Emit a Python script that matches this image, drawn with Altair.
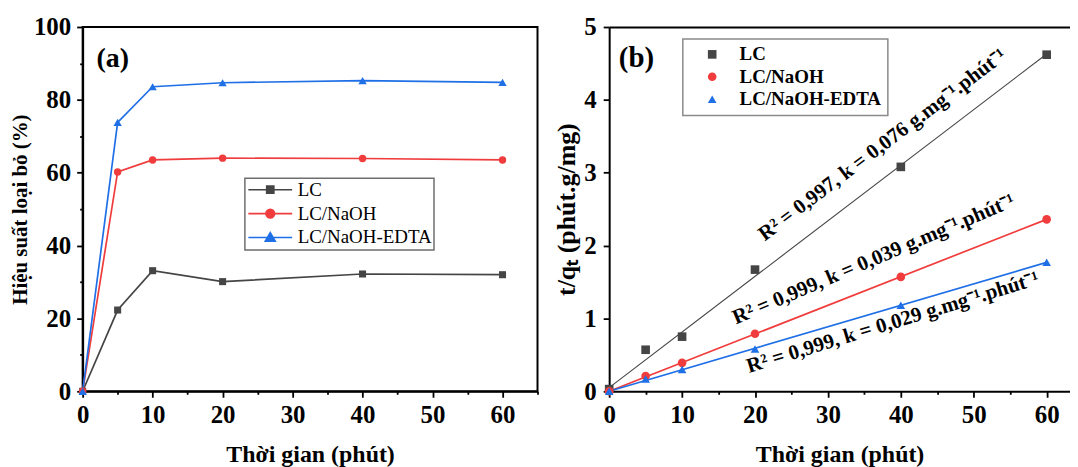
import altair as alt
import pandas as pd

# ------------------------------------------------------------------ data
time_min = [0, 5, 10, 20, 40, 60]
series_names = ["LC", "LC/NaOH", "LC/NaOH-EDTA"]

# (a) removal efficiency (%)
removal_LC = [0.0, 22.3, 33.1, 30.1, 32.2, 32.0]
removal_NaOH = [0.0, 60.2, 63.5, 64.0, 63.9, 63.5]
removal_EDTA = [0.0, 73.8, 83.6, 84.7, 85.3, 84.8]

# (b) t/qt
tq_LC = [0.03, 0.57, 0.75, 1.67, 3.08, 4.62]
tq_NaOH = [0.0, 0.21, 0.39, 0.79, 1.57, 2.36]
tq_EDTA = [0.0, 0.17, 0.30, 0.58, 1.18, 1.77]

# (b) fitted lines (end points)
fit_time = [0, 60]
fit_LC = [0.05, 4.63]
fit_NaOH = [0.0, 2.36]
fit_EDTA = [0.0, 1.77]

fit_labels = [
    "R² = 0,997, k = 0,076 g.mg⁻¹.phút⁻¹",
    "R² = 0,999, k = 0,039 g.mg⁻¹.phút⁻¹",
    "R² = 0,999, k = 0,029 g.mg⁻¹.phút⁻¹",
]

# tick values
x_ticks = [0, 5, 10, 15, 20, 25, 30, 35, 40, 45, 50, 55, 60, 65]
ya_ticks = [0, 10, 20, 30, 40, 50, 60, 70, 80, 90, 100]
yb_ticks = [0, 0.5, 1, 1.5, 2, 2.5, 3, 3.5, 4, 4.5, 5]

# ------------------------------------------------------------------ layout / style
FONT = "Liberation Serif"
COLORS = ["#454545", "#F03C3C", "#1F6FE6"]
SHAPES = ["square", "circle", "triangle-up"]
SIZES_A = [50, 55, 70]
FIT_WIDTHS = [1.1, 1.7, 1.7]
LEG_PATHS = [
    "M-1,0H4.5M1.3,-0.45H2.2V0.45H1.3Z",
    "M-1,0H4.5M2.3,0A0.55,0.55,0,1,1,1.2,0A0.55,0.55,0,1,1,2.3,0Z",
    "M-1,0H4.5M1.75,-0.62L2.38,0.45H1.12Z",
]
ann_x = [37.5, 36.3, 38.9]
ann_y = [3.38, 1.81, 0.94]
ann_angle = [323, 337, 343]

W_A, H_A = 457, 366
W_B, H_B = 463, 366


def long_df(xs, ys_list):
    rows = []
    for name, ys in zip(series_names, ys_list):
        for x, y in zip(xs, ys):
            rows.append({"time": x, "value": y, "series": name})
    return pd.DataFrame(rows)


df_a = long_df(time_min, [removal_LC, removal_NaOH, removal_EDTA])
df_b = long_df(time_min, [tq_LC, tq_NaOH, tq_EDTA])
df_fit = long_df(fit_time, [fit_LC, fit_NaOH, fit_EDTA])
df_ann = pd.DataFrame({"time": ann_x, "value": ann_y, "text": fit_labels, "angle": ann_angle})
df_la = pd.DataFrame({"time": [4.3], "value": [91.2], "text": ["(a)"]})
df_lb = pd.DataFrame({"time": [3.75], "value": [4.58], "text": ["(b)"]})


def minor_axis(values, test, title, **kw):
    return alt.Axis(
        values=values,
        format="d",
        labelExpr=f"({test}) ? datum.label : ''",
        tickSize={"condition": {"test": test, "value": 6}, "value": 3},
        labelFlush=False,
        labelOverlap=False,
        title=title,
        **kw,
    )


# ------------------------------------------------------------------ panel (a)
xa_scale = alt.Scale(domain=[0, 65], nice=False, zero=False)
ya_scale = alt.Scale(domain=[0, 100], nice=False)
xa = alt.X("time:Q", scale=xa_scale,
           axis=minor_axis(x_ticks, "datum.value % 10 === 0", "Thời gian (phút)",
                           labelPadding=5, titlePadding=16))
ya = alt.Y("value:Q", scale=ya_scale,
           axis=minor_axis(ya_ticks, "datum.value % 20 === 0", "Hiệu suất loại bỏ (%)",
                           labelPadding=6, titlePadding=3, titleFontSize=21))

lines_a = [
    alt.Chart(df_a).transform_filter(alt.datum.series == name).mark_line(
        strokeWidth=1.7, color=col).encode(x=xa, y=ya)
    for name, col in zip(series_names, COLORS)
]
points_a = [
    alt.Chart(df_a).transform_filter(alt.datum.series == name).mark_point(
        filled=True, opacity=1, shape=shp, size=sz, color=col).encode(x=xa, y=ya)
    for name, shp, sz, col in zip(series_names, SHAPES, SIZES_A, COLORS)
]

leg_a = alt.Legend(
    orient="none", legendX=163, legendY=152, title=None,
    labelFont=FONT, labelFontSize=19, labelFontWeight="normal", labelColor="black",
    strokeColor="#6e6e6e", padding=2, symbolOffset=0,
    symbolSize=256, symbolStrokeWidth=1.6, labelOffset=32, rowPadding=4,
)
legend_a = alt.Chart(df_a).mark_point(filled=True, strokeWidth=1.6, opacity=1, size=256).encode(
    x=xa, y=ya,
    fill=alt.Fill("series:N", scale=alt.Scale(domain=series_names, range=COLORS), legend=leg_a),
    stroke=alt.Stroke("series:N", scale=alt.Scale(domain=series_names, range=COLORS), legend=leg_a),
    shape=alt.Shape("series:N", scale=alt.Scale(domain=series_names, range=LEG_PATHS), legend=leg_a),
).transform_filter("false")

label_a = alt.Chart(df_la).mark_text(font=FONT, fontSize=28, fontWeight="bold", color="black").encode(
    x=xa, y=ya, text="text:N")

panel_a = alt.layer(*lines_a, *points_a, legend_a, label_a).properties(width=W_A, height=H_A)

# ------------------------------------------------------------------ panel (b)
xb_scale = alt.Scale(domain=[0, 63.2], nice=False, zero=False)
yb_scale = alt.Scale(domain=[0, 5], nice=False)
xb_main = alt.X("time:Q", scale=xb_scale,
                axis=minor_axis(x_ticks, "datum.value % 10 === 0", "Thời gian (phút)",
                                labelPadding=5, titlePadding=16, orient="bottom"))
xb_top = alt.X("time:Q", scale=xb_scale,
               axis=alt.Axis(orient="top", labels=False, ticks=False, title=None, domainWidth=2))
xb_none = alt.X("time:Q", scale=xb_scale, axis=None)
yb = alt.Y("value:Q", scale=yb_scale,
           axis=minor_axis(yb_ticks, "datum.value % 1 === 0", "t/qₜ (phút.g/mg)",
                           labelPadding=7, titlePadding=4, titleFontSize=26))
leg_b = alt.Legend(
    orient="none", legendX=74, legendY=12, title=None,
    labelFont=FONT, labelFontSize=19, labelFontWeight="bold", labelColor="black",
    strokeColor="#8a8a8a", padding=6, symbolOffset=14,
    symbolSize=75, labelOffset=18, rowPadding=2.5,
)
color_b = alt.Color("series:N", scale=alt.Scale(domain=series_names, range=COLORS), legend=leg_b)
shape_b = alt.Shape("series:N", scale=alt.Scale(domain=series_names, range=SHAPES), legend=leg_b)

fits_b = [
    alt.Chart(df_fit).transform_filter(alt.datum.series == name).mark_line(
        color=col, strokeWidth=w).encode(x=(xb_top if i == 0 else xb_none), y=yb)
    for i, (name, col, w) in enumerate(zip(series_names, COLORS, FIT_WIDTHS))
]
points_b = alt.Chart(df_b).mark_point(filled=True, opacity=1, size=75).encode(
    x=xb_main, y=yb, color=color_b, shape=shape_b,
)
ann_b = alt.Chart(df_ann).mark_text(font=FONT, fontSize=21, fontWeight="bold", color="black",
                                    baseline="middle", align="center").encode(
    x=xb_none, y=yb, text="text:N", angle=alt.Angle("angle:Q", scale=None))
label_b = alt.Chart(df_lb).mark_text(font=FONT, fontSize=29, fontWeight="bold", color="black").encode(
    x=xb_none, y=yb, text="text:N")

panel_b = alt.layer(*fits_b, points_b, ann_b, label_b).resolve_axis(x="independent").properties(
    width=W_B, height=H_B, view=alt.ViewBackground(stroke=None))

# ------------------------------------------------------------------ combine
chart = alt.hconcat(panel_a, panel_b, spacing=14).resolve_scale(
    color="independent", shape="independent", fill="independent", stroke="independent",
).configure(
    padding={"left": 0, "top": 5, "right": 0, "bottom": 0},
    background="white",
).configure_view(
    stroke="black", strokeWidth=2,
).configure_axis(
    labelFont=FONT, labelFontSize=25, labelFontWeight="bold", labelColor="black",
    titleFont=FONT, titleFontSize=24, titleFontWeight="bold", titleColor="black",
    domainColor="black", domainWidth=2, tickColor="black", tickWidth=1.8, grid=False,
).configure_legend(
    strokeWidth=1.5,
)

chart.save("out.html", embed_options={"renderer": "svg", "actions": False})
